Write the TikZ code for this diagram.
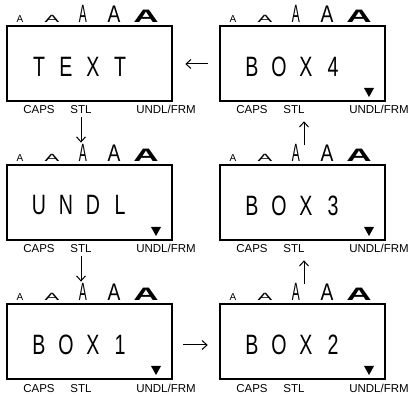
\documentclass[tikz,border=0pt]{standalone}
\usepackage{fontspec}
\setmainfont{Liberation Sans}
\newfontfamily\bigfont[FakeStretch=0.7]{Liberation Sans}
\usetikzlibrary{arrows.meta}
\newcommand\spreadtext[4]{\makebox[27pt]{#1}\makebox[27pt]{#2}\makebox[27pt]{#3}\makebox[27pt]{#4}}
\tikzset{
  lcdbox/.style={draw, line width=2.5pt, minimum width=165pt, minimum height=75pt, inner sep=0pt},
  lcdtext/.style={inner sep=0pt, font=\bigfont\fontsize{28}{28}\selectfont},
  aglyph/.style={anchor=base, inner sep=0pt},
  lbl/.style={anchor=base, inner sep=0pt, font=\fontsize{11.5}{11.5}\selectfont},
  arr/.style={line width=1pt, -{Straight Barb[length=5pt,width=9pt]}},
  tri/.style={fill=black}
}
\newcommand\lcdunit[5]{%
  \node[lcdbox] (#1) at (#2+82.5,#3+37.5) {};
  \node[lcdtext] (#1t) at (#2+72.5,#3+40.5) {#4};
  \node[aglyph] (#1a1) at (#2+13,#3-3) {\fontsize{10}{10}\selectfont A};
  \node[aglyph] (#1a2) at (#2+45,#3-3) {\scalebox{2.1}[1]{\fontsize{10.5}{10.5}\selectfont A}};
  \node[aglyph] (#1a3) at (#2+76,#3-3) {\scalebox{0.48}[1]{\fontsize{25}{25}\selectfont A}};
  \node[aglyph] (#1a4) at (#2+107,#3-3) {\scalebox{0.8}[1]{\fontsize{24}{24}\selectfont A}};
  \node[aglyph] (#1a5) at (#2+139,#3-3) {\scalebox{1.95}[1]{\fontsize{18}{18}\selectfont\bfseries A}};
  \node[lbl] (#1caps) at (#2+32,#3+88) {CAPS};
  \node[lbl] (#1stl) at (#2+74,#3+88) {STL};
  \node[lbl] (#1undl) at (#2+159,#3+88) {UNDL/FRM};
  #5
}
\begin{document}
\begin{tikzpicture}[x=1pt,y=-1pt]
\useasboundingbox (0,0) rectangle (408,396);
\lcdunit{t}{7}{26}{\spreadtext{T}{E}{X}{T}}{}
\lcdunit{u}{7}{165}{\spreadtext{U}{N}{D}{L}}{\fill[tri] (151,227) -- (161,227) -- (156,236) -- cycle;}
\lcdunit{bA}{7}{304}{\spreadtext{B}{O}{X}{1}}{\fill[tri] (151,366) -- (161,366) -- (156,375) -- cycle;}
\lcdunit{bD}{220}{26}{\spreadtext{B}{O}{X}{4}}{\fill[tri] (364,88) -- (374,88) -- (369,97) -- cycle;}
\lcdunit{bC}{220}{165}{\spreadtext{B}{O}{X}{3}}{\fill[tri] (364,227) -- (374,227) -- (369,236) -- cycle;}
\lcdunit{bB}{220}{304}{\spreadtext{B}{O}{X}{2}}{\fill[tri] (364,366) -- (374,366) -- (369,375) -- cycle;}
% vertical arrows, left column (down)
\draw[arr, shorten <=3pt, shorten >=2pt] (tstl.south) -- (tstl.south |- ua3.north);
\draw[arr, shorten <=3pt, shorten >=2pt] (ustl.south) -- (ustl.south |- bAa3.north);
% vertical arrows, right column (up)
\coordinate (cB) at ([xshift=8pt]bBa3.north);
\coordinate (cC) at ([xshift=8pt]bCa3.north);
\draw[arr, shorten >=7pt] (cB) -- (cB |- bCstl.south);
\draw[arr, shorten >=7pt] (cC) -- (cC |- bDstl.south);
% horizontal arrows
\coordinate (hA) at (0,345);
\coordinate (hD) at (0,64);
\draw[arr, shorten <=10pt, shorten >=11pt] (bA.east |- hA) -- (bB.west |- hA);
\draw[arr, shorten <=11pt, shorten >=12pt] (bD.west |- hD) -- (t.east |- hD);
\end{tikzpicture}
\end{document}
